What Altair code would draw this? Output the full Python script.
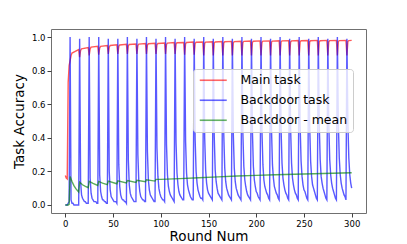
import altair as alt
import pandas as pd

series_names = ["Main task", "Backdoor task", "Backdoor - mean"]
series_colors = ["#ff0000", "#0000ff", "#008000"]

x_ticks = [0, 50, 100, 150, 200, 250, 300]
y_ticks = [0.0, 0.2, 0.4, 0.6, 0.8, 1.0]

# rounds where the backdoor is injected (blue spike)
spike_rounds = [5, 15, 25, 35, 45, 55, 65, 75, 85, 95, 105, 115, 125, 135, 145,
                155, 165, 175, 185, 195, 205, 215, 225, 235, 245, 255, 265, 275, 285, 295]

# Backdoor task accuracy: rounds 0-4, then each cycle starting at a spike
blue_lead = [0.0, 0.0, 0.0, 0.01, 0.02]
blue_cycles = [
    [1.00, 0.03, 0.01, 0.01, 0.00, 0.00, 0.00, 0.00, 0.00, 0.00],
    [0.99, 0.14, 0.06, 0.04, 0.03, 0.02, 0.02, 0.01, 0.01, 0.01],
    [1.00, 0.16, 0.07, 0.04, 0.03, 0.02, 0.02, 0.02, 0.01, 0.01],
    [1.00, 0.18, 0.08, 0.05, 0.03, 0.03, 0.02, 0.02, 0.01, 0.01],
    [0.99, 0.20, 0.09, 0.05, 0.04, 0.03, 0.02, 0.02, 0.02, 0.01],
    [0.99, 0.24, 0.11, 0.06, 0.04, 0.03, 0.03, 0.02, 0.02, 0.01],
    [1.00, 0.27, 0.12, 0.07, 0.05, 0.04, 0.03, 0.02, 0.02, 0.02],
    [0.99, 0.30, 0.14, 0.08, 0.05, 0.04, 0.03, 0.03, 0.02, 0.02],
    [1.00, 0.32, 0.15, 0.09, 0.06, 0.05, 0.04, 0.03, 0.02, 0.02],
    [0.99, 0.34, 0.17, 0.10, 0.07, 0.05, 0.04, 0.03, 0.03, 0.02],
    [1.00, 0.36, 0.18, 0.11, 0.08, 0.06, 0.05, 0.04, 0.03, 0.02],
    [0.99, 0.37, 0.19, 0.12, 0.08, 0.06, 0.05, 0.04, 0.03, 0.03],
    [1.00, 0.38, 0.19, 0.12, 0.09, 0.07, 0.05, 0.04, 0.03, 0.03],
    [0.99, 0.39, 0.20, 0.13, 0.09, 0.07, 0.05, 0.04, 0.04, 0.03],
    [1.00, 0.40, 0.21, 0.13, 0.09, 0.07, 0.06, 0.05, 0.04, 0.03],
    [0.99, 0.41, 0.21, 0.14, 0.10, 0.07, 0.06, 0.05, 0.04, 0.03],
    [1.00, 0.42, 0.22, 0.14, 0.10, 0.08, 0.06, 0.05, 0.04, 0.03],
    [0.99, 0.42, 0.22, 0.14, 0.10, 0.08, 0.06, 0.05, 0.04, 0.03],
    [1.00, 0.43, 0.23, 0.15, 0.11, 0.08, 0.06, 0.05, 0.04, 0.03],
    [0.99, 0.44, 0.23, 0.15, 0.11, 0.08, 0.07, 0.05, 0.04, 0.03],
    [1.00, 0.44, 0.24, 0.15, 0.11, 0.09, 0.07, 0.06, 0.04, 0.03],
    [0.99, 0.45, 0.24, 0.16, 0.11, 0.09, 0.07, 0.06, 0.04, 0.03],
    [1.00, 0.46, 0.25, 0.16, 0.12, 0.09, 0.07, 0.06, 0.04, 0.03],
    [0.99, 0.46, 0.25, 0.16, 0.12, 0.09, 0.07, 0.06, 0.04, 0.03],
    [1.00, 0.47, 0.26, 0.17, 0.12, 0.09, 0.08, 0.06, 0.04, 0.03],
    [0.99, 0.47, 0.26, 0.17, 0.12, 0.10, 0.08, 0.06, 0.04, 0.03],
    [1.00, 0.48, 0.27, 0.17, 0.13, 0.10, 0.08, 0.06, 0.04, 0.03],
    [0.99, 0.48, 0.27, 0.18, 0.13, 0.10, 0.08, 0.06, 0.04, 0.03],
    [1.00, 0.49, 0.28, 0.18, 0.13, 0.10, 0.08, 0.06, 0.05, 0.03],
    [0.99, 0.49, 0.28, 0.18, 0.13, 0.10],
]

# Backdoor - mean
green_rounds = [0, 1, 2, 3, 4, 5, 7, 9, 11, 14, 15, 18, 21, 24, 25, 29, 34, 35, 39, 44, 45,
                54, 55, 64, 65, 74, 75, 84, 85, 94, 95, 100, 120, 140, 160, 180, 200,
                220, 240, 260, 280, 300]
green_values = [0.0, 0.0, 0.0, 0.0, 0.004, 0.17, 0.14, 0.115, 0.097, 0.077, 0.135, 0.12,
                0.11, 0.103, 0.14, 0.128, 0.116, 0.14, 0.13, 0.121, 0.142, 0.126, 0.143,
                0.131, 0.145, 0.134, 0.147, 0.138, 0.15, 0.142, 0.152, 0.152, 0.157,
                0.162, 0.167, 0.172, 0.176, 0.18, 0.183, 0.186, 0.189, 0.192]

# Main task accuracy
red_lead_rounds = [0, 1, 2, 3, 4]
red_lead = [0.175, 0.16, 0.155, 0.73, 0.83]
red_dip = [0.86, 0.88, 0.89, 0.895, 0.90, 0.90, 0.90, 0.90, 0.90, 0.90,
           0.90, 0.90, 0.895, 0.895, 0.89, 0.89, 0.89, 0.89, 0.89, 0.89,
           0.89, 0.89, 0.89, 0.89, 0.89, 0.89, 0.89, 0.89, 0.89, 0.89]
red_rec = [0.89, 0.92, 0.93, 0.935, 0.94, 0.945, 0.948, 0.95, 0.952, 0.954,
           0.956, 0.958, 0.96, 0.962, 0.963, 0.964, 0.965, 0.966, 0.967, 0.968,
           0.969, 0.97, 0.97, 0.971, 0.971, 0.972, 0.972, 0.972, 0.973, 0.973]
red_top = [0.905, 0.93, 0.94, 0.945, 0.95, 0.953, 0.956, 0.958, 0.96, 0.962,
           0.964, 0.966, 0.968, 0.969, 0.97, 0.971, 0.972, 0.973, 0.974, 0.975,
           0.976, 0.976, 0.977, 0.977, 0.978, 0.978, 0.978, 0.979, 0.979, 0.979]
red_end = [0.925, 0.937, 0.945, 0.95, 0.954, 0.957, 0.959, 0.961, 0.963, 0.965,
           0.967, 0.968, 0.97, 0.971, 0.972, 0.973, 0.974, 0.975, 0.976, 0.977,
           0.977, 0.978, 0.978, 0.979, 0.979, 0.98, 0.98, 0.98, 0.98, 0.98]

rows = []
for r, v in zip(red_lead_rounds, red_lead):
    rows.append({"round": r, "value": v, "series": "Main task"})
for i, s in enumerate(spike_rounds):
    for r, v in [(s, red_dip[i]), (s + 1, red_rec[i]), (s + 2, red_top[i]),
                 (min(s + 9, 300), red_end[i])]:
        rows.append({"round": r, "value": v, "series": "Main task"})
for r, v in enumerate(blue_lead):
    rows.append({"round": r, "value": v, "series": "Backdoor task"})
for i, s in enumerate(spike_rounds):
    for j, v in enumerate(blue_cycles[i]):
        rows.append({"round": s + j, "value": v, "series": "Backdoor task"})
for r, v in zip(green_rounds, green_values):
    rows.append({"round": r, "value": v, "series": "Backdoor - mean"})

df = pd.DataFrame(rows)

color = alt.Color(
    "series:N",
    scale=alt.Scale(domain=series_names, range=series_colors),
    sort=series_names,
    legend=alt.Legend(
        title=None, orient="none", legendX=142, legendY=40,
        symbolType="M-1,0H5", symbolSize=81, symbolStrokeWidth=1.6,
        symbolOpacity=0.6, labelFontSize=12.5, labelOffset=30,
        labelColor="#000000", rowPadding=7, padding=5,
        fillColor="rgba(255,255,255,0.8)", strokeColor="#cccccc",
        cornerRadius=3,
    ),
)

x = alt.X(
    "round:Q",
    scale=alt.Scale(domain=[-15, 315], nice=False, zero=False),
    axis=alt.Axis(values=x_ticks, title="Round Num", format="d"),
)
y = alt.Y(
    "value:Q",
    scale=alt.Scale(domain=[-0.048, 1.048], nice=False, zero=False),
    axis=alt.Axis(values=y_ticks, title="Task Accuracy", format=".1f"),
)

layers = []
for name in series_names:
    layers.append(
        alt.Chart(df)
        .transform_filter(alt.datum.series == name)
        .mark_line(strokeWidth=1.4, opacity=0.65, interpolate="linear")
        .encode(x=x, y=y, color=color, order="round:Q")
    )

chart = (
    alt.layer(*layers)
    .properties(
        width=315, height=184,
        autosize=alt.AutoSizeParams(type="none"),
        padding={"left": 43, "top": 21, "right": 33, "bottom": 31},
    )
    .configure(font="DejaVu Sans")
    .configure_view(stroke="#707070", strokeWidth=1)
    .configure_axis(
        domain=False, grid=False, ticks=True, tickSize=4, tickColor="#404040",
        labelFontSize=8.5, labelColor="#000000", labelPadding=2,
        titleFontSize=13.5, titleFontWeight="normal", titleColor="#000000",
    )
    .configure_axisX(titlePadding=2)
    .configure_axisY(titlePadding=5)
)

chart.save("out.html", embed_options={"renderer": "svg", "actions": False})
